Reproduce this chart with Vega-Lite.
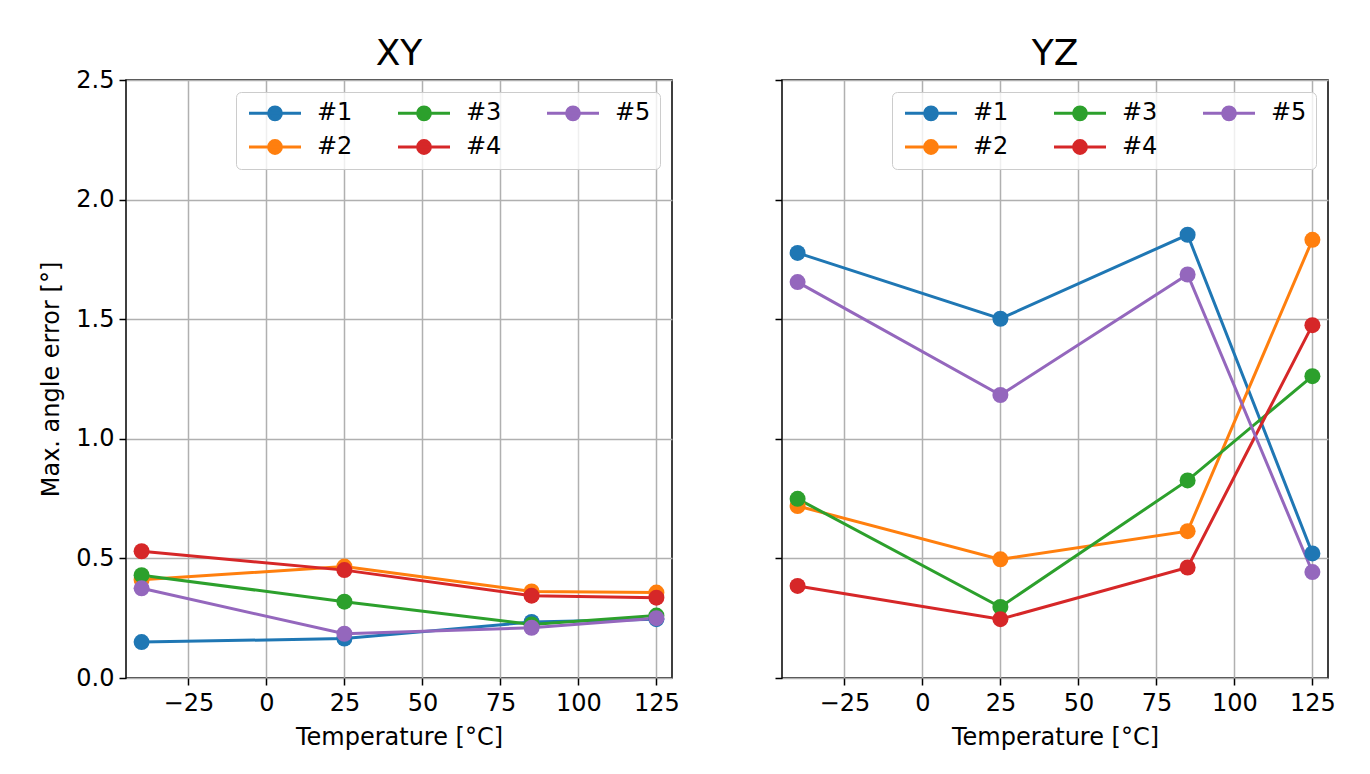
{
  "$schema": "https://vega.github.io/schema/vega-lite/v6.json",
  "background": "white",
  "padding": {"left": 39, "top": 35, "right": 30, "bottom": 20},
  "datasets": {
    "d": [
      {"plane": "XY", "sensor": "#1", "temp": -40, "err": 0.150},
      {"plane": "XY", "sensor": "#1", "temp": 25, "err": 0.165},
      {"plane": "XY", "sensor": "#1", "temp": 85, "err": 0.234},
      {"plane": "XY", "sensor": "#1", "temp": 125, "err": 0.246},
      {"plane": "XY", "sensor": "#2", "temp": -40, "err": 0.411},
      {"plane": "XY", "sensor": "#2", "temp": 25, "err": 0.466},
      {"plane": "XY", "sensor": "#2", "temp": 85, "err": 0.362},
      {"plane": "XY", "sensor": "#2", "temp": 125, "err": 0.357},
      {"plane": "XY", "sensor": "#3", "temp": -40, "err": 0.430},
      {"plane": "XY", "sensor": "#3", "temp": 25, "err": 0.319},
      {"plane": "XY", "sensor": "#3", "temp": 85, "err": 0.224},
      {"plane": "XY", "sensor": "#3", "temp": 125, "err": 0.261},
      {"plane": "XY", "sensor": "#4", "temp": -40, "err": 0.530},
      {"plane": "XY", "sensor": "#4", "temp": 25, "err": 0.451},
      {"plane": "XY", "sensor": "#4", "temp": 85, "err": 0.344},
      {"plane": "XY", "sensor": "#4", "temp": 125, "err": 0.336},
      {"plane": "XY", "sensor": "#5", "temp": -40, "err": 0.375},
      {"plane": "XY", "sensor": "#5", "temp": 25, "err": 0.185},
      {"plane": "XY", "sensor": "#5", "temp": 85, "err": 0.210},
      {"plane": "XY", "sensor": "#5", "temp": 125, "err": 0.250},
      {"plane": "YZ", "sensor": "#1", "temp": -40, "err": 1.777},
      {"plane": "YZ", "sensor": "#1", "temp": 25, "err": 1.502},
      {"plane": "YZ", "sensor": "#1", "temp": 85, "err": 1.853},
      {"plane": "YZ", "sensor": "#1", "temp": 125, "err": 0.521},
      {"plane": "YZ", "sensor": "#2", "temp": -40, "err": 0.719},
      {"plane": "YZ", "sensor": "#2", "temp": 25, "err": 0.496},
      {"plane": "YZ", "sensor": "#2", "temp": 85, "err": 0.614},
      {"plane": "YZ", "sensor": "#2", "temp": 125, "err": 1.832},
      {"plane": "YZ", "sensor": "#3", "temp": -40, "err": 0.749},
      {"plane": "YZ", "sensor": "#3", "temp": 25, "err": 0.297},
      {"plane": "YZ", "sensor": "#3", "temp": 85, "err": 0.826},
      {"plane": "YZ", "sensor": "#3", "temp": 125, "err": 1.262},
      {"plane": "YZ", "sensor": "#4", "temp": -40, "err": 0.385},
      {"plane": "YZ", "sensor": "#4", "temp": 25, "err": 0.246},
      {"plane": "YZ", "sensor": "#4", "temp": 85, "err": 0.462},
      {"plane": "YZ", "sensor": "#4", "temp": 125, "err": 1.475},
      {"plane": "YZ", "sensor": "#5", "temp": -40, "err": 1.655},
      {"plane": "YZ", "sensor": "#5", "temp": 25, "err": 1.183},
      {"plane": "YZ", "sensor": "#5", "temp": 85, "err": 1.687},
      {"plane": "YZ", "sensor": "#5", "temp": 125, "err": 0.443}
    ]
  },
  "spacing": 92,
  "resolve": {"legend": {"color": "independent"}},
  "hconcat": [
    {
      "width": 546,
      "height": 598,
      "title": {"text": "XY", "fontSize": 36, "font": "DejaVu Sans", "fontWeight": "normal", "color": "black", "anchor": "middle", "offset": -5},
      "data": {"name": "d"},
      "transform": [{"filter": "datum.plane === 'XY'"}],
      "encoding": {
        "x": {"field": "temp", "type": "quantitative", "scale": {"domain": [-45, 130], "nice": false, "zero": false}, "axis": {"values": [-25, 0, 25, 50, 75, 100, 125], "title": "Temperature [°C]"}},
        "y": {"field": "err", "type": "quantitative", "scale": {"domain": [0, 2.5], "nice": false}, "axis": {"values": [0, 0.5, 1, 1.5, 2, 2.5], "format": ".1f", "title": "Max. angle error [°]"}},
        "color": {
          "field": "sensor", "type": "nominal",
          "scale": {"domain": ["#1", "#2", "#3", "#4", "#5"], "range": ["#1f77b4", "#ff7f0e", "#2ca02c", "#d62728", "#9467bd"]},
          "legend": {
            "orient": "top-right", "offset": 12, "columns": 3, "title": null,
            "symbolType": "M-3.25,0H3.25M0.8,0A0.8,0.8 0 1,1 -0.8,0A0.8,0.8 0 1,1 0.8,0Z",
            "symbolSize": 256, "symbolStrokeWidth": 3, "symbolOffset": 18, "labelOffset": 30,
            "labelFontSize": 24, "labelFont": "DejaVu Sans", "labelColor": "black",
            "columnPadding": 39, "rowPadding": 8, "padding": 9,
            "strokeColor": "#cccccc", "fillColor": "rgba(255,255,255,0.8)", "cornerRadius": 5,
            "encode": {"symbols": {"update": {"fill": {"scale": "color", "field": "value"}, "stroke": {"scale": "color", "field": "value"}, "opacity": {"value": 1}}}}
          }
        }
      },
      "layer": [
        {"mark": {"type": "line", "strokeWidth": 3}},
        {"mark": {"type": "circle", "size": 256, "opacity": 1}}
      ]
    },
    {
      "width": 546,
      "height": 598,
      "title": {"text": "YZ", "fontSize": 36, "font": "DejaVu Sans", "fontWeight": "normal", "color": "black", "anchor": "middle", "offset": 6},
      "data": {"name": "d"},
      "transform": [{"filter": "datum.plane === 'YZ'"}],
      "encoding": {
        "x": {"field": "temp", "type": "quantitative", "scale": {"domain": [-45, 130], "nice": false, "zero": false}, "axis": {"values": [-25, 0, 25, 50, 75, 100, 125], "title": "Temperature [°C]"}},
        "y": {"field": "err", "type": "quantitative", "scale": {"domain": [0, 2.5], "nice": false}, "axis": {"values": [0, 0.5, 1, 1.5, 2, 2.5], "labels": false, "title": null}},
        "color": {
          "field": "sensor", "type": "nominal",
          "scale": {"domain": ["#1", "#2", "#3", "#4", "#5"], "range": ["#1f77b4", "#ff7f0e", "#2ca02c", "#d62728", "#9467bd"]},
          "legend": {
            "orient": "top-right", "offset": 12, "columns": 3, "title": null,
            "symbolType": "M-3.25,0H3.25M0.8,0A0.8,0.8 0 1,1 -0.8,0A0.8,0.8 0 1,1 0.8,0Z",
            "symbolSize": 256, "symbolStrokeWidth": 3, "symbolOffset": 18, "labelOffset": 30,
            "labelFontSize": 24, "labelFont": "DejaVu Sans", "labelColor": "black",
            "columnPadding": 39, "rowPadding": 8, "padding": 9,
            "strokeColor": "#cccccc", "fillColor": "rgba(255,255,255,0.8)", "cornerRadius": 5,
            "encode": {"symbols": {"update": {"fill": {"scale": "color", "field": "value"}, "stroke": {"scale": "color", "field": "value"}, "opacity": {"value": 1}}}}
          }
        }
      },
      "layer": [
        {"mark": {"type": "line", "strokeWidth": 3}},
        {"mark": {"type": "circle", "size": 256, "opacity": 1}}
      ]
    }
  ],
  "config": {
    "view": {"stroke": "black", "strokeWidth": 1.5},
    "axis": {
      "domain": false, "grid": true, "gridColor": "#b0b0b0", "gridWidth": 1.5,
      "ticks": true, "tickColor": "black", "tickSize": 7, "tickWidth": 1.5,
      "labelFont": "DejaVu Sans", "labelFontSize": 24, "labelColor": "black", "labelPadding": 5,
      "titleFont": "DejaVu Sans", "titleFontSize": 24, "titleFontWeight": "normal", "titleColor": "black"
    },
    "axisX": {"titlePadding": 10, "labelPadding": 6},
    "axisY": {"titlePadding": 12}
  }
}
